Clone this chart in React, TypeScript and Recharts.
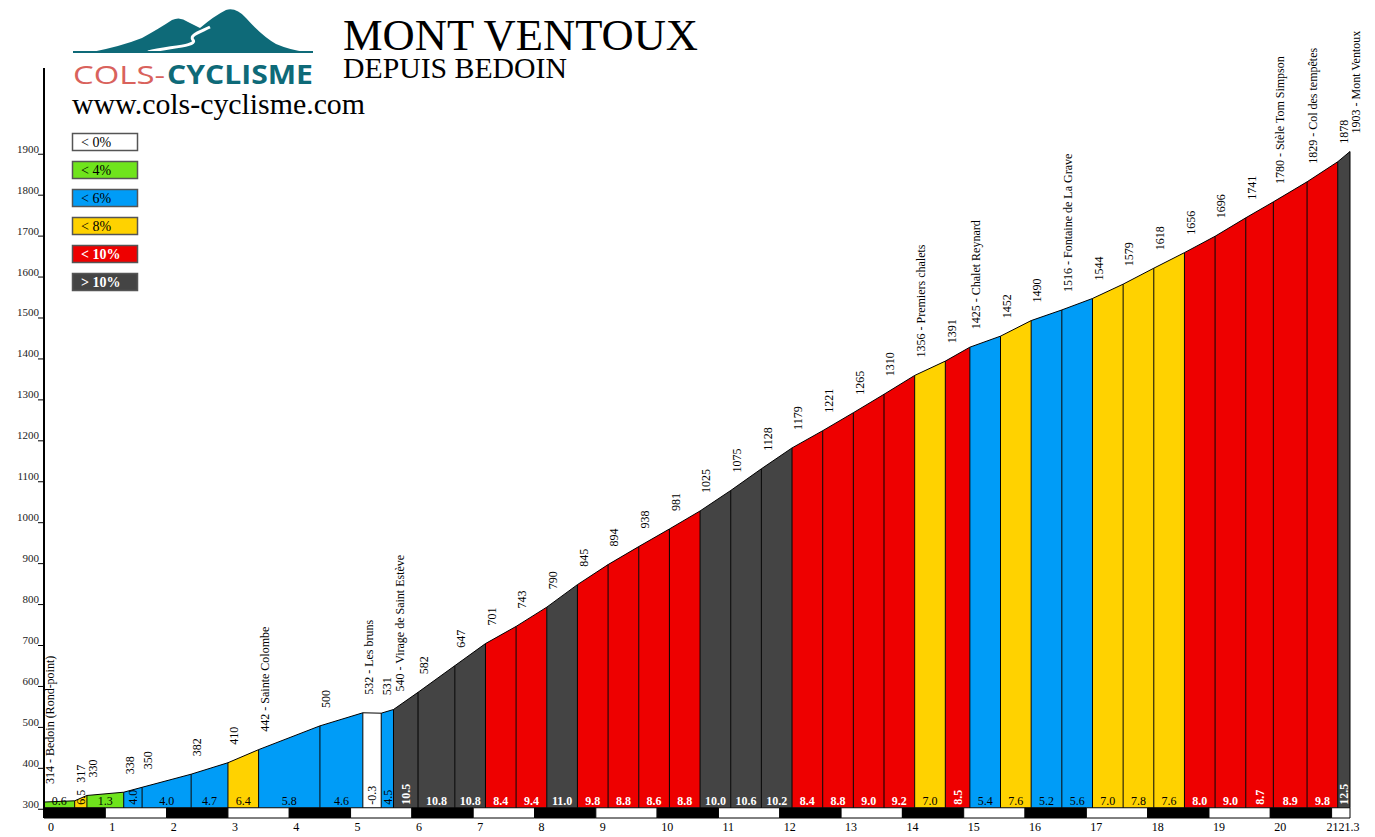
import React from 'react';
import {
  Area,
  ComposedChart,
  Line,
  ReferenceArea,
  ReferenceLine,
  Scatter,
  XAxis,
  YAxis,
} from 'recharts';

// km markers of the profile and the altitude at each of them
const kms = [
  0, 0.5, 0.7, 1.3, 1.6, 2.4, 3.0, 3.5, 4.5, 5.2, 5.5, 5.7, 6.1, 6.7, 7.2, 7.7,
  8.2, 8.7, 9.2, 9.7, 10.2, 10.7, 11.2, 11.7, 12.2, 12.7, 13.2, 13.7, 14.2, 14.7,
  15.1, 15.6, 16.1, 16.6, 17.1, 17.6, 18.1, 18.6, 19.1, 19.6, 20.05, 20.6, 21.1,
  21.3,
];
const elevations = [
  314, 317, 330, 338, 350, 382, 410, 442, 500, 532, 531, 540, 582, 647, 701, 743,
  790, 845, 894, 938, 981, 1025, 1075, 1128, 1179, 1221, 1265, 1310, 1356, 1391,
  1425, 1452, 1490, 1516, 1544, 1579, 1618, 1656, 1696, 1741, 1780, 1829, 1878,
  1903,
];
const placeNames = [
  'Bedoin (Rond-point)', '', '', '', '', '', '', 'Sainte Colombe', '', 'Les bruns',
  '', 'Virage de Saint Estève', '', '', '', '', '', '', '', '', '', '', '', '', '',
  '', '', '', 'Premiers chalets', '', 'Chalet Reynard', '', '', 'Fontaine de La Grave',
  '', '', '', '', '', '', 'Stèle Tom Simpson', 'Col des tempêtes', '', 'Mont Ventoux',
];
// average gradient of each section (between two markers)
const grades = [
  0.6, 6.5, 1.3, 4.0, 4.0, 4.7, 6.4, 5.8, 4.6, -0.3, 4.5, 10.5, 10.8, 10.8, 8.4,
  9.4, 11.0, 9.8, 8.8, 8.6, 8.8, 10.0, 10.6, 10.2, 8.4, 8.8, 9.0, 9.2, 7.0, 8.5,
  5.4, 7.6, 5.2, 5.6, 7.0, 7.8, 7.6, 8.0, 9.0, 8.7, 8.9, 9.8, 12.5,
];
const kmTicks = [0, 1, 2, 3, 4, 5, 6, 7, 8, 9, 10, 11, 12, 13, 14, 15, 16, 17, 18, 19, 20, 21, 21.3];
const elevTicks = [300, 400, 500, 600, 700, 800, 900, 1000, 1100, 1200, 1300, 1400, 1500, 1600, 1700, 1800, 1900];
const legendLabels = ['< 0%', '< 4%', '< 6%', '< 8%', '< 10%', '> 10%'];
const legendGrades = [-1, 2, 5, 7, 9, 11];

const BASE = 300;
const SERIF = "'Liberation Serif', 'Times New Roman', serif";

const gradeColor = (g: number) =>
  g < 0 ? '#ffffff' : g < 4 ? '#6fe41c' : g < 6 ? '#009cf7' : g < 8 ? '#ffd200' : g < 10 ? '#ee0000' : '#444444';
const gradeText = (g: number) => (g >= 8 ? '#ffffff' : '#000000');

const rows = kms.map((km, i) => {
  const row: Record<string, any> = {
    km,
    elev: elevations[i],
    label: placeNames[i] ? `${elevations[i]} - ${placeNames[i]}` : `${elevations[i]}`,
  };
  grades.forEach((_, s) => {
    row[`s${s}`] = i === s || i === s + 1 ? elevations[i] : null;
  });
  return row;
});

const gradeMarks = grades.map((g, s) => ({
  km: (kms[s] + kms[s + 1]) / 2,
  base: BASE,
  grade: g,
  narrow: kms[s + 1] - kms[s] < 0.48,
}));

const ElevLabel = (props: any) => {
  const { cx, cy, payload } = props;
  const ax = cx + 6;
  const ay = cy - 18;
  return (
    <text x={ax} y={ay} dy="0.35em" transform={`rotate(-90 ${ax} ${ay})`} fontSize={12} fontFamily={SERIF} fill="#000">
      {payload.label}
    </text>
  );
};

const GradeLabel = (props: any) => {
  const { cx, cy, payload } = props;
  const txt = payload.grade.toFixed(1);
  const fill = gradeText(payload.grade);
  const weight = payload.grade >= 8 ? 'bold' : 'normal';
  if (payload.narrow) {
    const ay = cy - 3;
    return (
      <text x={cx} y={ay} dy="0.35em" transform={`rotate(-90 ${cx} ${ay})`} fontSize={12} fontWeight={weight} fontFamily={SERIF} fill={fill}>
        {txt}
      </text>
    );
  }
  return (
    <text x={cx} y={cy - 3} textAnchor="middle" fontSize={12} fontWeight={weight} fontFamily={SERIF} fill={fill}>
      {txt}
    </text>
  );
};

const ElevTick = (props: any) => {
  const { y, payload } = props;
  return (
    <g>
      <text x={39} y={y} textAnchor="end" fontSize={11} fontFamily={SERIF} fill="#222">
        {payload.value}
      </text>
      <line x1={38} x2={44} y1={y + 1.5} y2={y + 1.5} stroke="#000" />
    </g>
  );
};

const KmTick = (props: any) => {
  const { x, payload } = props;
  const v = payload.value;
  let anchor: 'start' | 'end' | 'middle' = 'start';
  let tx = x + 4;
  if (v === 21) {
    anchor = 'end';
    tx = x + 7;
  } else if (v === 21.3) {
    anchor = 'middle';
    tx = x - 1;
  }
  return (
    <text x={tx} y={831} textAnchor={anchor} fontSize={12} fontFamily={SERIF} fill="#000">
      {v}
    </text>
  );
};

const Header = () => (
  <svg width={1375} height={300} style={{ position: 'absolute', left: 0, top: 0, pointerEvents: 'none' }}>
    <path
      d="M 92 52 Q 122 46 142 38 Q 160 28 172 20 Q 180 16 188 22 L 200 28 Q 214 16 226 10 Q 236 7 246 18 Q 262 36 276 44 Q 290 50 306 52 Z"
      fill="#0e6a78"
    />
    <path
      d="M 148 52 C 168 47 198 46 193 40 C 189 35 200 32 210 27"
      fill="none"
      stroke="#ffffff"
      strokeWidth={3}
    />
    <rect x={73} y={51} width={240} height={2} fill="#0e6a78" />
    <text x={73} y={84} fontSize={26} fontFamily="'Open Sans', sans-serif" fill="#d9625c" textLength={92} lengthAdjust="spacingAndGlyphs">
      COLS-
    </text>
    <text x={167} y={84} fontSize={26} fontWeight="bold" fontFamily="'Open Sans', sans-serif" fill="#0e6a78" textLength={146} lengthAdjust="spacingAndGlyphs">
      CYCLISME
    </text>
    <text x={72} y={114} fontSize={29.5} fontFamily={SERIF} fill="#000" textLength={293} lengthAdjust="spacingAndGlyphs">
      www.cols-cyclisme.com
    </text>
    <text x={343} y={50} fontSize={44.5} fontFamily={SERIF} fill="#000" textLength={355} lengthAdjust="spacingAndGlyphs">
      MONT VENTOUX
    </text>
    <text x={343} y={78} fontSize={29} fontFamily={SERIF} fill="#000" textLength={224} lengthAdjust="spacingAndGlyphs">
      DEPUIS BEDOIN
    </text>
    {legendLabels.map((lab, i) => (
      <g key={lab}>
        <rect x={72.5} y={133.5 + 28 * i} width={65} height={17} fill={gradeColor(legendGrades[i])} stroke="#555" strokeWidth={1.5} />
        <text
          x={81}
          y={146.5 + 28 * i}
          fontSize={14}
          fontFamily={SERIF}
          fontWeight={legendGrades[i] >= 8 ? 'bold' : 'normal'}
          fill={gradeText(legendGrades[i])}
        >
          {lab}
        </text>
      </g>
    ))}
  </svg>
);

export default function App() {
  return (
    <div style={{ position: 'absolute', left: 0, top: 0, width: 1375, height: 837, background: '#fff' }}>
      <ComposedChart width={1375} height={837} data={rows} margin={{ top: 68, right: 25, bottom: 0, left: 0 }}>
        <XAxis
          type="number"
          dataKey="km"
          domain={[0, 21.3]}
          ticks={kmTicks}
          interval={0}
          axisLine={false}
          tickLine={false}
          height={19}
          tick={<KmTick />}
        />
        <YAxis
          type="number"
          domain={[275, 2107]}
          ticks={elevTicks}
          interval={0}
          width={44}
          axisLine={{ stroke: '#000', strokeWidth: 2 }}
          tickLine={false}
          tick={<ElevTick />}
        />
        {grades.map((g, s) => (
          <Area
            key={`s${s}`}
            type="linear"
            dataKey={`s${s}`}
            baseValue={BASE}
            fill={gradeColor(g)}
            fillOpacity={1}
            stroke="none"
            isAnimationActive={false}
          />
        ))}
        {kms.map((km, i) => (
          <ReferenceLine
            key={`b${i}`}
            segment={[
              { x: km, y: BASE },
              { x: km, y: elevations[i] },
            ]}
            stroke="#000"
            strokeWidth={1}
          />
        ))}
        <Line type="linear" dataKey="elev" stroke="#000" strokeWidth={1} dot={false} isAnimationActive={false} />
        {kmTicks.slice(0, -1).map((k, i) => (
          <ReferenceArea
            key={`k${k}`}
            x1={k}
            x2={kmTicks[i + 1]}
            y1={275}
            y2={BASE}
            fill={i % 2 === 0 ? '#000' : '#fff'}
            fillOpacity={1}
            stroke="#000"
            strokeWidth={1}
          />
        ))}
        <Scatter data={gradeMarks} dataKey="base" shape={<GradeLabel />} isAnimationActive={false} />
        <Scatter data={rows} dataKey="elev" shape={<ElevLabel />} isAnimationActive={false} />
      </ComposedChart>
      <Header />
    </div>
  );
}
